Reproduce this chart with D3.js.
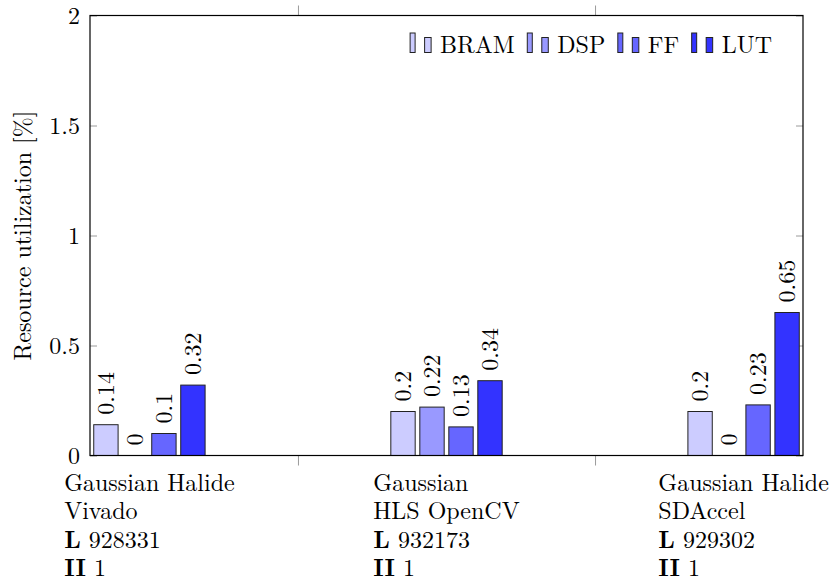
<!DOCTYPE html>
<html>
<head>
<meta charset="utf-8">
<script src="https://cdn.jsdelivr.net/npm/d3@7"></script>
</head>
<body style="margin:0;background:#fff">
<svg id="chart" width="830" height="584" style="display:block"></svg>
<script>
// ---- data ----
const categoryNames = [["Gaussian Halide", "Vivado"], ["Gaussian", "HLS OpenCV"], ["Gaussian Halide", "SDAccel"]];
const latencies = ["928331", "932173", "929302"];
const initiationIntervals = ["1", "1", "1"];
const seriesNames = ["BRAM", "DSP", "FF", "LUT"];
const bramValues = [0.14, 0.2, 0.2];
const dspValues = [0, 0.22, 0];
const ffValues = [0.1, 0.13, 0.23];
const lutValues = [0.32, 0.34, 0.65];
const seriesColors = ["#ccccff", "#9999ff", "#6666ff", "#3333ff"];
const yTickValues = [0, 0.5, 1, 1.5, 2];
const yTickLabels = ["0", "0.5", "1", "1.5", "2"];
const yTitle = "Resource utilization [%]";

const seriesValues = [bramValues, dspValues, ffValues, lutValues];

// ---- layout ----
const FONT = "'Latin Modern Roman', 'Liberation Serif', serif";
const FS = 24;
const plotL = 90, plotR = 803, plotT = 15.5, plotB = 455.5;
const svg = d3.select("#chart");

const x = d3.scaleLinear().domain([-0.2, categoryNames.length - 1 + 0.2]).range([plotL, plotR]);
const y = d3.scaleLinear().domain([0, 2]).range([plotB, plotT]);
const inner = d3.scaleBand().domain(seriesNames).range([-58, 58]).paddingInner(0.16).paddingOuter(0.08);

function txt(sel) {
  return sel.attr("font-family", FONT).attr("font-size", FS).attr("fill", "#000");
}

// ticks
const tickColor = "#9a9a9a";
function styleAxis(g) {
  g.attr("font-family", FONT).attr("font-size", FS);
  g.select(".domain").remove();
  g.selectAll(".tick line").attr("stroke", tickColor).attr("stroke-width", 1);
  g.selectAll(".tick text").call(txt);
}
svg.append("g").attr("transform", `translate(${plotL},0)`)
  .call(d3.axisLeft(y).tickValues(yTickValues).tickFormat((d, i) => yTickLabels[i]).tickSize(-7).tickPadding(10))
  .call(styleAxis);
svg.append("g").attr("transform", `translate(${plotR},0)`)
  .call(d3.axisRight(y).tickValues(yTickValues).tickFormat("").tickSize(-7))
  .call(styleAxis);
const midTicks = d3.range(categoryNames.length - 1).map(i => i + 0.5);
svg.append("g").attr("transform", `translate(0,${plotB})`)
  .call(d3.axisBottom(x).tickValues(midTicks).tickFormat("").tickSize(10))
  .call(styleAxis);
svg.append("g").attr("transform", `translate(0,${plotT})`)
  .call(d3.axisTop(x).tickValues(midTicks).tickFormat("").tickSize(10))
  .call(styleAxis);

// bars
const barData = [];
categoryNames.forEach((c, ci) => {
  seriesNames.forEach((s, si) => {
    barData.push({ ci, s, si, v: seriesValues[si][ci] });
  });
});
const fmt = v => String(+v.toFixed(2));
svg.append("g").selectAll("rect").data(barData).join("rect")
  .attr("x", d => x(d.ci) + inner(d.s))
  .attr("width", inner.bandwidth())
  .attr("y", d => y(d.v))
  .attr("height", d => y(0) - y(d.v))
  .attr("fill", d => seriesColors[d.si])
  .attr("stroke", d => d.v > 0 ? "#222" : "none")
  .attr("stroke-width", 1);

svg.append("g").selectAll("text").data(barData).join("text")
  .attr("transform", d => `translate(${x(d.ci) + inner(d.s) + inner.bandwidth() / 2},${y(d.v) - 10}) rotate(-90)`)
  .attr("dy", "0.34em")
  .attr("text-anchor", "start")
  .call(txt)
  .text(d => fmt(d.v));

// frame
svg.append("rect").attr("x", plotL).attr("y", plotT).attr("width", plotR - plotL).attr("height", plotB - plotT)
  .attr("fill", "none").attr("stroke", "#000").attr("stroke-width", 1.2);

// y title
svg.append("text")
  .attr("transform", `translate(31,${(plotT + plotB) / 2}) rotate(-90)`)
  .attr("text-anchor", "middle")
  .call(txt)
  .text(yTitle);

// x category labels
const lineH = 28.4;
categoryNames.forEach((lines, ci) => {
  const g = svg.append("g");
  const t = g.append("text").call(txt);
  lines.forEach((ln, li) => {
    t.append("tspan").attr("x", 0).attr("y", 491 + li * lineH).text(ln);
  });
  const l3 = t.append("tspan").attr("x", 0).attr("y", 491 + 2 * lineH);
  l3.append("tspan").attr("font-weight", "bold").text("L");
  l3.append("tspan").text(" " + latencies[ci]);
  const l4 = t.append("tspan").attr("x", 0).attr("y", 491 + 3 * lineH);
  l4.append("tspan").attr("font-weight", "bold").text("II");
  l4.append("tspan").text(" " + initiationIntervals[ci]);
  const w = t.node().getBBox().width;
  g.attr("transform", `translate(${x(ci) - w / 2},0)`);
});

// legend
const legGap = 12.5;
const legend = svg.append("g");
let cx = 0;
seriesNames.forEach((s, si) => {
  const item = legend.append("g").attr("transform", `translate(${cx},0)`);
  item.append("rect").attr("x", 0).attr("y", -19.5).attr("width", 5).attr("height", 19.5)
    .attr("fill", seriesColors[si]).attr("stroke", "#222").attr("stroke-width", 1);
  item.append("rect").attr("x", 14.5).attr("y", -15).attr("width", 6.5).attr("height", 15)
    .attr("fill", seriesColors[si]).attr("stroke", "#222").attr("stroke-width", 1);
  const t = item.append("text").attr("x", 30).attr("y", 0).call(txt).text(s);
  cx += 30 + t.node().getComputedTextLength() + legGap;
});
const legW = cx - legGap;
legend.attr("transform", `translate(${772 - legW},52.5)`);
</script>
</body>
</html>
